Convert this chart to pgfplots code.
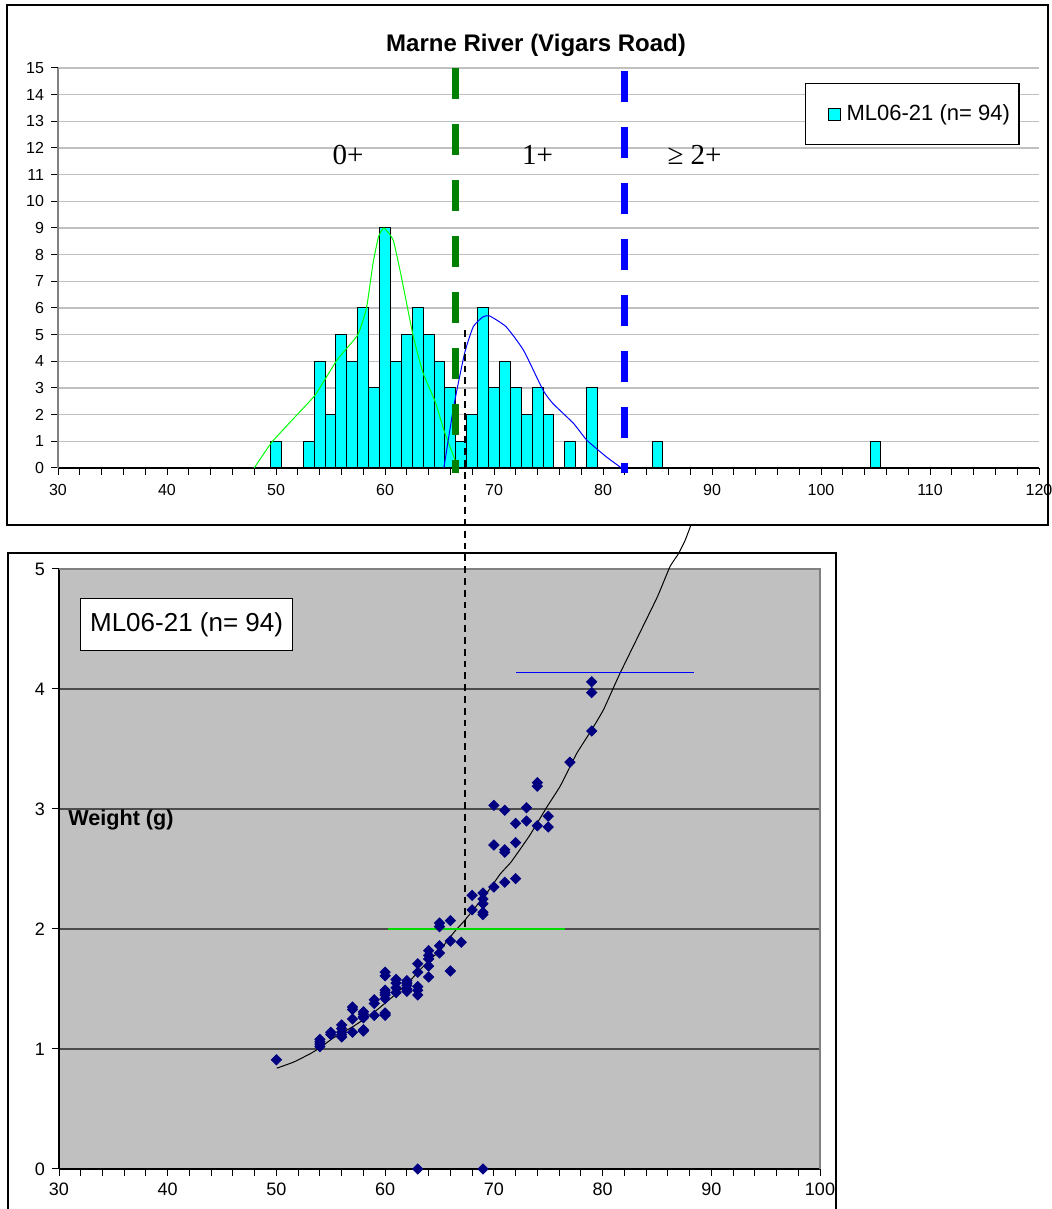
\documentclass[border=0pt]{standalone}
\usepackage{pgfplots}
\pgfplotsset{compat=1.18}
\usepackage{pgfplotstable}
\usepackage{fontspec}
\setmainfont{Liberation Sans}
\newfontfamily\timesfont{Liberation Serif}
\definecolor{plotgray}{HTML}{C0C0C0}
\definecolor{navyblue}{HTML}{000080}
\definecolor{dgreen}{HTML}{008000}
\definecolor{lgreen}{HTML}{00FF00}
\definecolor{barcyan}{HTML}{00FFFF}

\pgfplotstableread{
len count
50 1
53 1
54 4
55 2
56 5
57 4
58 6
59 3
60 9
61 4
62 5
63 6
64 5
65 4
66 3
67 1
68 2
69 6
70 3
71 4
72 3
73 2
74 3
75 2
77 1
79 3
85 1
105 1
}\histdata

\pgfplotstableread{
len wt
50 0.91
54 1.08
54 1.06
54 1.04
54 1.02
55 1.14
55 1.12
56 1.20
56 1.17
56 1.14
56 1.12
56 1.10
57 1.35
57 1.33
57 1.25
57 1.14
58 1.31
58 1.29
58 1.27
58 1.26
58 1.16
58 1.15
59 1.41
59 1.38
59 1.28
60 1.64
60 1.61
60 1.49
60 1.47
60 1.45
60 1.42
60 1.30
60 1.29
60 1.28
61 1.58
61 1.55
61 1.51
61 1.47
62 1.57
62 1.55
62 1.53
62 1.50
62 1.48
63 1.71
63 1.64
63 1.52
63 1.49
63 1.45
63 0
64 1.82
64 1.78
64 1.75
64 1.69
64 1.60
65 2.05
65 2.02
65 1.86
65 1.80
66 2.07
66 1.90
66 1.65
67 1.89
68 2.28
68 2.16
69 2.30
69 2.25
69 2.21
69 2.14
69 2.12
69 0
70 3.03
70 2.70
70 2.35
71 2.99
71 2.66
71 2.64
71 2.39
72 2.88
72 2.72
72 2.42
73 3.01
73 2.90
74 3.22
74 3.19
74 2.86
75 2.94
75 2.85
77 3.39
79 4.06
79 3.97
79 3.65
}\scatterdata

\begin{document}
\begin{tikzpicture}
\path[use as bounding box] (0,0) rectangle (525.5pt,604.5pt);
% top chart frame
\draw[black, line width=0.7pt] (3.5pt,342pt) rectangle (524pt,602pt);
\begin{axis}[
  at={(29pt,370.5pt)}, anchor=south west,
  scale only axis, width=490.5pt, height=200pt,
  xmin=30, xmax=120, ymin=0, ymax=15,
  axis lines*=left,
  x axis line style={black, line width=0.6pt},
  y axis line style={gray, line width=0.6pt},
  xtick={30,40,...,120}, minor xtick={32,34,...,118},
  ytick={0,1,...,15},
  tick align=outside,
  major tick length=3.5pt, minor tick length=3.5pt,
  tick style={black, line width=0.5pt},
  ymajorgrids, grid style={plotgray, line width=0.7pt},
  tick label style={font=\fontsize{8}{9}\selectfont},
  xticklabel style={yshift=-1pt},
  /pgf/number format/assume math mode=true,
  clip=false,
  legend style={at={(rel axis cs:0.7615,0.9625)}, anchor=north west,
    draw=black, fill=white, line width=0.6pt,
    font=\fontsize{11}{13}\selectfont, inner xsep=2.5pt, inner ysep=8.5pt},
  legend cell align=left,
]
\addplot[ybar, bar width=1, fill=barcyan, draw=black, line width=0.5pt,
  legend image code/.code={\path[draw=none, fill=none] (0pt,0pt) (16pt,0pt); \draw[fill=barcyan, draw=black, line width=0.5pt] (9pt,-3pt) rectangle (15pt,3pt);}]
  table[x=len, y=count] {\histdata};
\addlegendentry{ML06-21 (n= 94)}
\addplot[lgreen, line width=0.5pt, smooth, tension=0.25, forget plot] coordinates {
(48,0) (49.6,0.96) (51.6,1.85) (53.6,2.74) (55.6,4.05) (57.5,4.99) (58.3,5.99) (58.9,7.67) (59.4,8.67) (59.9,9.0) (60.75,8.55) (61.5,7.17) (62.6,4.92) (63.5,3.55) (64.6,2.49) (65.5,1.3) (66.7,0)};
\addplot[blue, line width=0.5pt, smooth, tension=0.3, forget plot] coordinates {
(65.4,0) (66.3,2.3) (67.3,4.3) (68.1,5.3) (69.0,5.67) (69.6,5.7) (71.1,5.3) (72.7,4.42) (74.5,2.92) (75.4,2.42) (77.3,1.67) (78.5,1.05) (80.3,0.42) (81.7,0)};
\addplot[dgreen, line width=3.5pt, dash pattern=on 15.5pt off 12.5pt, forget plot] coordinates {(66.5,15) (66.5,-0.2)};
\addplot[blue, line width=3.5pt, dash pattern=on 15.5pt off 12.5pt, forget plot] coordinates {(82,14.9) (82,-0.2)};
\node[font=\bfseries\fontsize{12}{14}\selectfont] at (rel axis cs:0.4873,1.0575) {Marne River (Vigars Road)};
\node[font=\timesfont\fontsize{14.5}{16}\selectfont] at (axis cs:56.6,11.74) {0+};
\node[font=\timesfont\fontsize{14.5}{16}\selectfont] at (axis cs:74.0,11.74) {1+};
\node[font=\timesfont\fontsize{14.5}{16}\selectfont] at (axis cs:88.4,11.74) {≥ 2+};
\end{axis}

% bottom chart frame
\draw[black, line width=0.7pt] (4pt,-1pt) -- (4pt,328pt) -- (418pt,328pt) -- (418pt,-1pt);
\begin{axis}[
  at={(29.5pt,20pt)}, anchor=south west,
  scale only axis, width=380.5pt, height=300pt,
  xmin=30, xmax=100, ymin=0, ymax=5,
  axis lines*=left,
  axis line style={black, line width=0.6pt},
  axis background/.style={fill=plotgray},
  xtick={30,40,...,100}, minor xtick={32,34,...,98},
  ytick={0,1,...,5},
  tick align=outside,
  major tick length=3.5pt, minor tick length=3.5pt,
  tick style={black, line width=0.5pt},
  ymajorgrids, grid style={black!70, line width=0.7pt},
  tick label style={font=\fontsize{9}{10}\selectfont},
  /pgf/number format/assume math mode=true,
  clip=false,
]
\draw[gray, line width=0.7pt] (rel axis cs:0,1) -- (rel axis cs:1,1) -- (rel axis cs:1,0);
\addplot[only marks, mark=square*, mark size=1.8pt,
  mark options={rotate=45, fill=navyblue, draw=navyblue}]
  table[x=len, y=wt] {\scatterdata};
\addplot[black, line width=0.5pt, smooth, tension=0.2] coordinates {
(50.03,0.84) (51.56,0.89) (53.1,0.96) (54.0,1.01) (55.2,1.09) (57.1,1.19) (58.9,1.30) (60.75,1.44) (62.3,1.57) (63.2,1.66) (65.05,1.825) (66.4,1.98) (67.35,2.075) (69.35,2.30) (70.6,2.46) (71.6,2.56) (73.3,2.78) (74.9,3.02) (76.1,3.19) (77.6,3.46) (79.0,3.66) (80.1,3.83) (81.6,4.13) (85.0,4.76) (86.2,5.02) (87.0,5.13) (87.6,5.24) (88.1,5.36)};
\addplot[lgreen!85!black, line width=0.9pt] coordinates {(60.27,2) (76.55,2)};
\addplot[blue, line width=0.6pt] coordinates {(72.04,4.14) (88.4,4.14)};
\addplot[black, line width=1.4pt, dash pattern=on 3.4pt off 2.5pt] coordinates {(67.35,6.99) (67.35,1.98)};
\node[draw=black, fill=white, line width=0.6pt, anchor=north west, minimum width=106pt, minimum height=26pt,
  font=\fontsize{13}{15}\selectfont, inner xsep=4pt] at (rel axis cs:0.0276,0.9517) {ML06-21 (n= 94)};
\node[anchor=west, font=\bfseries\fontsize{10.8}{12}\selectfont, inner sep=0pt] at (rel axis cs:0.0118,0.5817) {Weight (g)};
\end{axis}
\end{tikzpicture}
\end{document}
